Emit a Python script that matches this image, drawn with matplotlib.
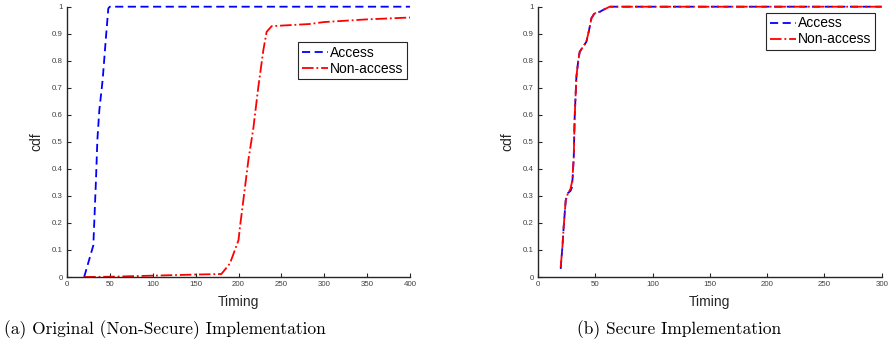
import matplotlib
matplotlib.use('Agg')
import matplotlib.pyplot as plt
from matplotlib.ticker import FormatStrFormatter, MultipleLocator

plt.rcParams['font.family'] = ['Liberation Sans', 'DejaVu Sans']

# (a) original implementation
a_access_x = [20, 30.7, 33.8, 35.4, 37.7, 41.6, 45.5, 48.2, 50, 400]
a_access_y = [0, 0.117, 0.36, 0.506, 0.617, 0.73, 0.89, 0.994, 1.0, 1.0]
a_non_x = [20, 50, 100, 150, 180, 190, 200, 201.7, 207.6, 211.5, 217.3, 223, 229,
           232.8, 238.7, 283, 299, 349, 400]
a_non_y = [0, 0.001, 0.005, 0.009, 0.011, 0.05, 0.136, 0.185, 0.333, 0.432, 0.55,
           0.70, 0.84, 0.907, 0.928, 0.936, 0.943, 0.953, 0.96]

# (b) secure implementation
b_access_x = [19.8, 21.3, 22.4, 24.2, 26.2, 28.3, 29.5, 30.3, 31.2, 32, 33.5, 35,
              36.4, 39.3, 42.2, 44.6, 46.6, 48.9, 51, 53.9, 56.8, 59.7, 62.6, 300]
b_access_y = [0.03, 0.111, 0.185, 0.284, 0.311, 0.318, 0.33, 0.37, 0.444, 0.59,
              0.74, 0.796, 0.833, 0.852, 0.87, 0.914, 0.957, 0.973, 0.979, 0.981,
              0.988, 0.994, 1.0, 1.0]
b_non_x = [19.8, 21.3, 22.4, 24.2, 26.2, 28.3, 30, 31.2, 32, 33.5, 35, 36.4,
           39.3, 42.2, 44.6, 46.6, 48.9, 51, 53.9, 56.8, 59.7, 62.6, 300]
b_non_y = [0.037, 0.111, 0.185, 0.284, 0.311, 0.325, 0.358, 0.444, 0.59, 0.74,
           0.796, 0.833, 0.852, 0.87, 0.914, 0.957, 0.973, 0.979, 0.981, 0.988,
           0.994, 1.0, 1.0]

captions = ['(a) Original (Non-Secure) Implementation', '(b) Secure Implementation']

fig = plt.figure(figsize=(8.89, 3.54), dpi=100)
ax1 = fig.add_axes([67/889, 77/354, 343/889, 270.3/354])
ax2 = fig.add_axes([538/889, 77/354, 343.7/889, 270.3/354])

ax1.plot(a_access_x, a_access_y, color='#0000ff', lw=1.3, dashes=(4.5, 2.5), label='Access', clip_on=False)
ax1.plot(a_non_x, a_non_y, color='#ff0000', lw=1.3, linestyle='-.', label='Non-access', clip_on=False)
ax2.plot(b_access_x, b_access_y, color='#0000ff', lw=1.3, dashes=(4.5, 2.5), label='Access', clip_on=False)
ax2.plot(b_non_x, b_non_y, color='#ff0000', lw=1.3, linestyle='-.', label='Non-access', clip_on=False)

legpos = [(0.991, 0.869), (0.981, 0.977)]
for ax, xmax, xstep, lp in [(ax1, 400, 50, legpos[0]), (ax2, 300, 50, legpos[1])]:
    ax.set_xlim(0, xmax)
    ax.set_ylim(0, 1)
    ax.xaxis.set_major_locator(MultipleLocator(xstep))
    ax.yaxis.set_major_locator(MultipleLocator(0.1))
    ax.yaxis.set_major_formatter(FormatStrFormatter('%g'))
    ax.spines['top'].set_visible(False)
    ax.spines['right'].set_visible(False)
    for s in ['left', 'bottom']:
        ax.spines[s].set_color('#262626')
        ax.spines[s].set_linewidth(1.0)
    ax.tick_params(direction='in', length=3, width=0.8, color='#262626',
                   labelsize=5.7, labelcolor='#404040', pad=3)
    ax.set_xlabel('Timing', fontsize=10, color='#262626')
    ax.set_ylabel('cdf', fontsize=10, color='#262626')
    ax.xaxis.set_label_coords(0.5, -0.065)
    ax.yaxis.set_label_coords(-0.07, 0.5)
    leg = ax.legend(loc='upper right', bbox_to_anchor=lp, fontsize=10,
                    fancybox=False, framealpha=1, edgecolor='#262626',
                    handlelength=1.9, handletextpad=0.15, borderpad=0.25,
                    labelspacing=0.15, borderaxespad=0)
    leg.get_frame().set_linewidth(0.8)

fig.text(165/889, 1 - 330/354, captions[0], fontfamily='cmr10', fontsize=12.5,
         ha='center', va='center')
fig.text(679/889, 1 - 330/354, captions[1], fontfamily='cmr10', fontsize=12.5,
         ha='center', va='center')

fig.savefig('out.png', dpi=100)
